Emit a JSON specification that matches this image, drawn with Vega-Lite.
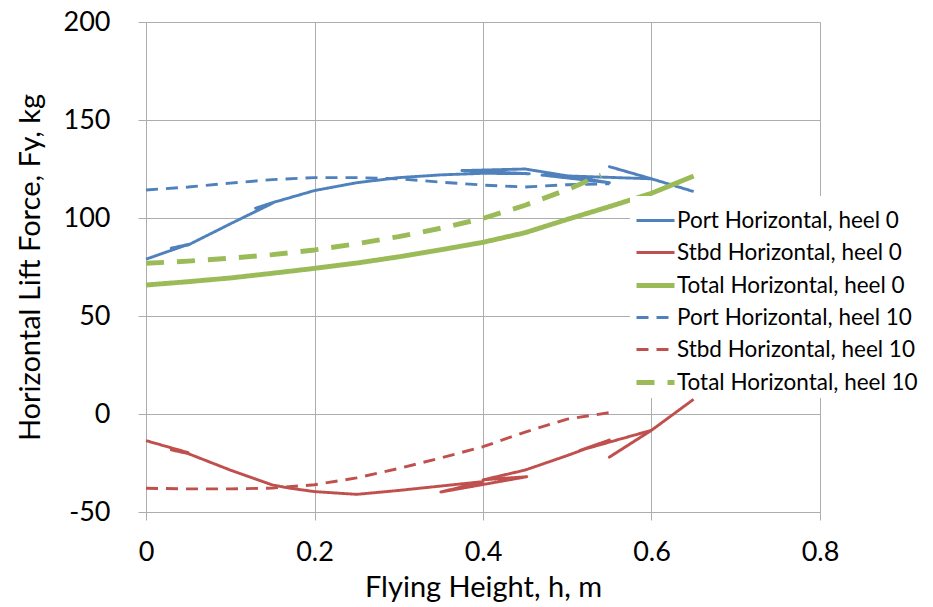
{
  "$schema": "https://vega.github.io/schema/vega-lite/v6.json",
  "width": 674,
  "height": 490,
  "autosize": {"type": "none"},
  "padding": {"left": 146, "top": 22, "right": 113, "bottom": 95},
  "background": "white",
  "config": {
    "font": "Lato",
    "view": {"stroke": null},
    "axis": {
      "gridColor": "#ADADAD",
      "gridWidth": 1,
      "domainColor": "#ADADAD",
      "domainWidth": 1,
      "tickColor": "#ADADAD",
      "tickSize": 8,
      "labelFont": "Lato",
      "labelFontSize": 27,
      "labelColor": "#000000",
      "titleFont": "Lato",
      "titleFontSize": 29,
      "titleFontWeight": "normal",
      "titleColor": "#000000"
    },
    "legend": {
      "labelFont": "Lato",
      "labelFontSize": 22.5,
      "labelColor": "#000000"
    }
  },
  "data": {
    "values": [
      {"s": "Port Horizontal, heel 0", "i": 1, "h": 0, "f": 79},
      {"s": "Port Horizontal, heel 0", "i": 2, "h": 0.05, "f": 86.5},
      {"s": "Port Horizontal, heel 0", "i": 3, "h": 0.03, "f": 84.6},
      {"s": "Port Horizontal, heel 0", "i": 4, "h": 0.05, "f": 86.2},
      {"s": "Port Horizontal, heel 0", "i": 5, "h": 0.1, "f": 97},
      {"s": "Port Horizontal, heel 0", "i": 6, "h": 0.15, "f": 107.5},
      {"s": "Port Horizontal, heel 0", "i": 7, "h": 0.13, "f": 105},
      {"s": "Port Horizontal, heel 0", "i": 8, "h": 0.15, "f": 107.8},
      {"s": "Port Horizontal, heel 0", "i": 9, "h": 0.2, "f": 114},
      {"s": "Port Horizontal, heel 0", "i": 10, "h": 0.25, "f": 118},
      {"s": "Port Horizontal, heel 0", "i": 11, "h": 0.3, "f": 120.6},
      {"s": "Port Horizontal, heel 0", "i": 12, "h": 0.35, "f": 122},
      {"s": "Port Horizontal, heel 0", "i": 13, "h": 0.4, "f": 122.8},
      {"s": "Port Horizontal, heel 0", "i": 14, "h": 0.455, "f": 122.6},
      {"s": "Port Horizontal, heel 0", "i": 15, "h": 0.375, "f": 124.2},
      {"s": "Port Horizontal, heel 0", "i": 16, "h": 0.45, "f": 125},
      {"s": "Port Horizontal, heel 0", "i": 17, "h": 0.55, "f": 118},
      {"s": "Port Horizontal, heel 0", "i": 18, "h": 0.47, "f": 121.9},
      {"s": "Port Horizontal, heel 0", "i": 19, "h": 0.6, "f": 120},
      {"s": "Port Horizontal, heel 0", "i": 20, "h": 0.55, "f": 126.2},
      {"s": "Port Horizontal, heel 0", "i": 21, "h": 0.6, "f": 120},
      {"s": "Port Horizontal, heel 0", "i": 22, "h": 0.65, "f": 113.5},

      {"s": "Stbd Horizontal, heel 0", "i": 1, "h": 0, "f": -13.6},
      {"s": "Stbd Horizontal, heel 0", "i": 2, "h": 0.05, "f": -19.7},
      {"s": "Stbd Horizontal, heel 0", "i": 3, "h": 0.03, "f": -18.3},
      {"s": "Stbd Horizontal, heel 0", "i": 4, "h": 0.05, "f": -20.2},
      {"s": "Stbd Horizontal, heel 0", "i": 5, "h": 0.1, "f": -28.6},
      {"s": "Stbd Horizontal, heel 0", "i": 6, "h": 0.15, "f": -36.2},
      {"s": "Stbd Horizontal, heel 0", "i": 7, "h": 0.17, "f": -37.8},
      {"s": "Stbd Horizontal, heel 0", "i": 8, "h": 0.2, "f": -39.6},
      {"s": "Stbd Horizontal, heel 0", "i": 9, "h": 0.25, "f": -41},
      {"s": "Stbd Horizontal, heel 0", "i": 10, "h": 0.3, "f": -39},
      {"s": "Stbd Horizontal, heel 0", "i": 11, "h": 0.4, "f": -34.5},
      {"s": "Stbd Horizontal, heel 0", "i": 12, "h": 0.35, "f": -39.8},
      {"s": "Stbd Horizontal, heel 0", "i": 13, "h": 0.452, "f": -32},
      {"s": "Stbd Horizontal, heel 0", "i": 14, "h": 0.4, "f": -33.6},
      {"s": "Stbd Horizontal, heel 0", "i": 15, "h": 0.45, "f": -28.6},
      {"s": "Stbd Horizontal, heel 0", "i": 16, "h": 0.5, "f": -21.2},
      {"s": "Stbd Horizontal, heel 0", "i": 17, "h": 0.55, "f": -13.3},
      {"s": "Stbd Horizontal, heel 0", "i": 18, "h": 0.515, "f": -18.6},
      {"s": "Stbd Horizontal, heel 0", "i": 19, "h": 0.6, "f": -8.3},
      {"s": "Stbd Horizontal, heel 0", "i": 20, "h": 0.55, "f": -22},
      {"s": "Stbd Horizontal, heel 0", "i": 21, "h": 0.6, "f": -8.3},
      {"s": "Stbd Horizontal, heel 0", "i": 22, "h": 0.65, "f": 7.5},

      {"s": "Total Horizontal, heel 0", "i": 1, "h": 0, "f": 65.8},
      {"s": "Total Horizontal, heel 0", "i": 2, "h": 0.05, "f": 67.5},
      {"s": "Total Horizontal, heel 0", "i": 3, "h": 0.1, "f": 69.4},
      {"s": "Total Horizontal, heel 0", "i": 4, "h": 0.15, "f": 71.8},
      {"s": "Total Horizontal, heel 0", "i": 5, "h": 0.2, "f": 74.3},
      {"s": "Total Horizontal, heel 0", "i": 6, "h": 0.25, "f": 77},
      {"s": "Total Horizontal, heel 0", "i": 7, "h": 0.3, "f": 80.2},
      {"s": "Total Horizontal, heel 0", "i": 8, "h": 0.35, "f": 83.8},
      {"s": "Total Horizontal, heel 0", "i": 9, "h": 0.4, "f": 87.6},
      {"s": "Total Horizontal, heel 0", "i": 10, "h": 0.45, "f": 92.5},
      {"s": "Total Horizontal, heel 0", "i": 11, "h": 0.5, "f": 99.3},
      {"s": "Total Horizontal, heel 0", "i": 12, "h": 0.55, "f": 105.8},
      {"s": "Total Horizontal, heel 0", "i": 13, "h": 0.6, "f": 112.6},
      {"s": "Total Horizontal, heel 0", "i": 14, "h": 0.65, "f": 121.4},

      {"s": "Port Horizontal, heel 10", "i": 1, "h": 0, "f": 114.3},
      {"s": "Port Horizontal, heel 10", "i": 2, "h": 0.05, "f": 115.8},
      {"s": "Port Horizontal, heel 10", "i": 3, "h": 0.1, "f": 117.8},
      {"s": "Port Horizontal, heel 10", "i": 4, "h": 0.15, "f": 119.6},
      {"s": "Port Horizontal, heel 10", "i": 5, "h": 0.2, "f": 120.6},
      {"s": "Port Horizontal, heel 10", "i": 6, "h": 0.25, "f": 120.6},
      {"s": "Port Horizontal, heel 10", "i": 7, "h": 0.3, "f": 120},
      {"s": "Port Horizontal, heel 10", "i": 8, "h": 0.35, "f": 118.3},
      {"s": "Port Horizontal, heel 10", "i": 9, "h": 0.4, "f": 116.8},
      {"s": "Port Horizontal, heel 10", "i": 10, "h": 0.45, "f": 115.8},
      {"s": "Port Horizontal, heel 10", "i": 11, "h": 0.5, "f": 117},
      {"s": "Port Horizontal, heel 10", "i": 12, "h": 0.55, "f": 117.5},

      {"s": "Stbd Horizontal, heel 10", "i": 1, "h": 0, "f": -37.9},
      {"s": "Stbd Horizontal, heel 10", "i": 2, "h": 0.05, "f": -38.2},
      {"s": "Stbd Horizontal, heel 10", "i": 3, "h": 0.1, "f": -38.2},
      {"s": "Stbd Horizontal, heel 10", "i": 4, "h": 0.15, "f": -37.8},
      {"s": "Stbd Horizontal, heel 10", "i": 5, "h": 0.2, "f": -36.1},
      {"s": "Stbd Horizontal, heel 10", "i": 6, "h": 0.25, "f": -32.6},
      {"s": "Stbd Horizontal, heel 10", "i": 7, "h": 0.3, "f": -27.8},
      {"s": "Stbd Horizontal, heel 10", "i": 8, "h": 0.35, "f": -22.4},
      {"s": "Stbd Horizontal, heel 10", "i": 9, "h": 0.4, "f": -16.7},
      {"s": "Stbd Horizontal, heel 10", "i": 10, "h": 0.45, "f": -9.2},
      {"s": "Stbd Horizontal, heel 10", "i": 11, "h": 0.5, "f": -2.6},
      {"s": "Stbd Horizontal, heel 10", "i": 12, "h": 0.55, "f": 0.7},

      {"s": "Total Horizontal, heel 10", "i": 1, "h": 0, "f": 76.9},
      {"s": "Total Horizontal, heel 10", "i": 2, "h": 0.05, "f": 78},
      {"s": "Total Horizontal, heel 10", "i": 3, "h": 0.1, "f": 79.5},
      {"s": "Total Horizontal, heel 10", "i": 4, "h": 0.15, "f": 81.3},
      {"s": "Total Horizontal, heel 10", "i": 5, "h": 0.2, "f": 83.7},
      {"s": "Total Horizontal, heel 10", "i": 6, "h": 0.25, "f": 86.9},
      {"s": "Total Horizontal, heel 10", "i": 7, "h": 0.3, "f": 90.5},
      {"s": "Total Horizontal, heel 10", "i": 8, "h": 0.35, "f": 94.8},
      {"s": "Total Horizontal, heel 10", "i": 9, "h": 0.4, "f": 99.8},
      {"s": "Total Horizontal, heel 10", "i": 10, "h": 0.45, "f": 106.5},
      {"s": "Total Horizontal, heel 10", "i": 11, "h": 0.5, "f": 114.5},
      {"s": "Total Horizontal, heel 10", "i": 12, "h": 0.54, "f": 121.8}
    ]
  },
  "mark": {"type": "line", "interpolate": "linear", "strokeCap": "butt", "strokeJoin": "round"},
  "encoding": {
    "x": {
      "field": "h",
      "type": "quantitative",
      "scale": {"domain": [0, 0.8], "nice": false, "zero": false},
      "axis": {
        "title": "Flying Height, h, m",
        "values": [0, 0.2, 0.4, 0.6, 0.8],
        "labelExpr": "'' + datum.value",
        "labelPadding": 19,
        "titlePadding": 8,
        "labelFlush": false
      }
    },
    "y": {
      "field": "f",
      "type": "quantitative",
      "scale": {"domain": [-50, 200], "nice": false, "zero": false},
      "axis": {
        "title": "Horizontal Lift Force, Fy, kg",
        "values": [-50, 0, 50, 100, 150, 200],
        "labelExpr": "'' + datum.value",
        "labelPadding": 28,
        "titlePadding": 18,
        "labelFlush": false
      }
    },
    "order": {"field": "i", "type": "quantitative"},
    "color": {
      "field": "s",
      "type": "nominal",
      "scale": {
        "domain": ["Port Horizontal, heel 0", "Stbd Horizontal, heel 0", "Total Horizontal, heel 0", "Port Horizontal, heel 10", "Stbd Horizontal, heel 10", "Total Horizontal, heel 10"],
        "range": ["#4F81BD", "#C0504D", "#9BBB59", "#4F81BD", "#C0504D", "#9BBB59"]
      },
      "legend": {
        "title": null,
        "orient": "none",
        "legendX": 484,
        "legendY": 174,
        "fillColor": "white",
        "padding": 4,
        "symbolType": "stroke",
        "symbolSize": 1444,
        "symbolOffset": 0,
        "labelOffset": 0,
        "rowPadding": 0,
        "labelLimit": 300
      }
    },
    "strokeDash": {
      "field": "s",
      "type": "nominal",
      "scale": {
        "domain": ["Port Horizontal, heel 0", "Stbd Horizontal, heel 0", "Total Horizontal, heel 0", "Port Horizontal, heel 10", "Stbd Horizontal, heel 10", "Total Horizontal, heel 10"],
        "range": [[1, 0], [1, 0], [1, 0], [12, 8], [12, 8], [18, 13]]
      }
    },
    "strokeWidth": {
      "field": "s",
      "type": "nominal",
      "scale": {
        "type": "ordinal",
        "domain": ["Port Horizontal, heel 0", "Stbd Horizontal, heel 0", "Total Horizontal, heel 0", "Port Horizontal, heel 10", "Stbd Horizontal, heel 10", "Total Horizontal, heel 10"],
        "range": [2.9, 2.9, 4.9, 2.9, 2.9, 4.9]
      }
    }
  }
}
